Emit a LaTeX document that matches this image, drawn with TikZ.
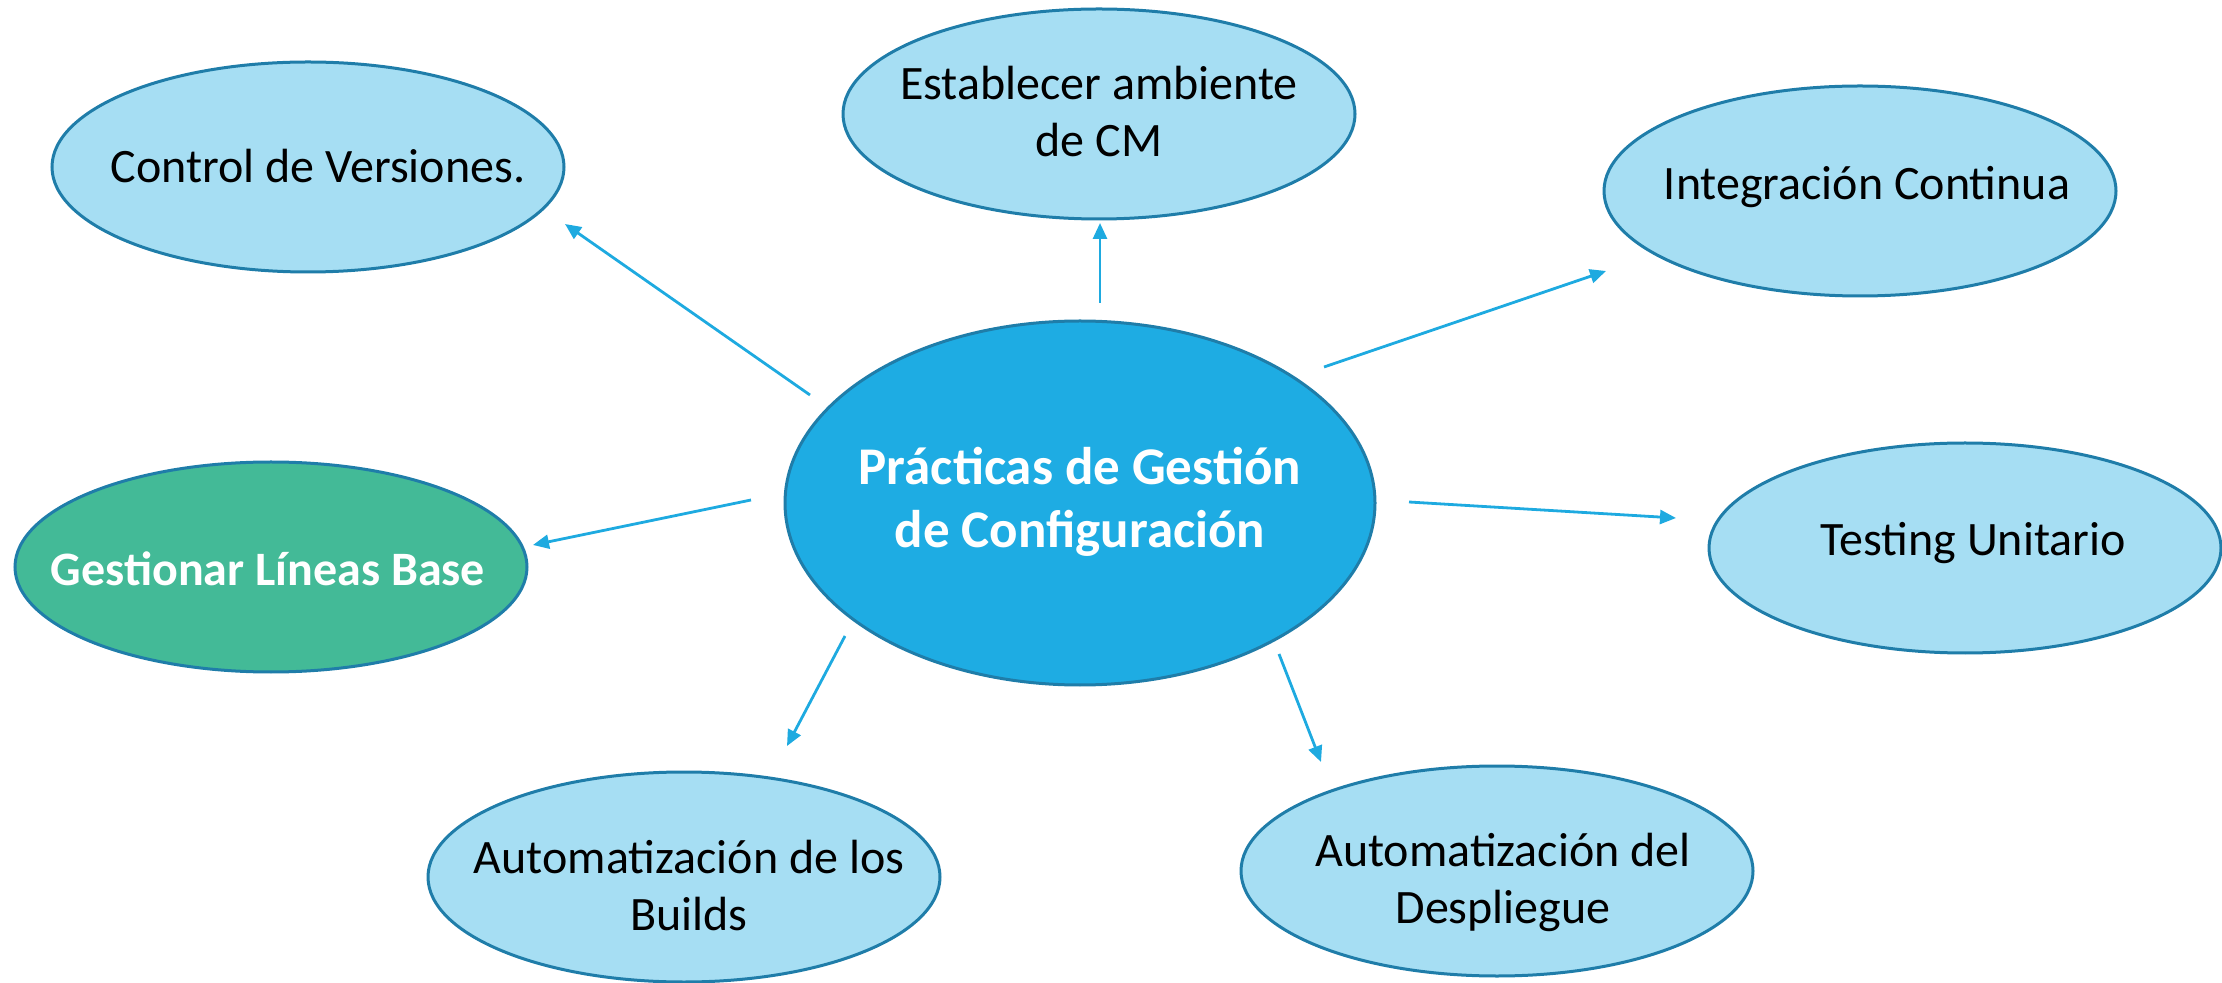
\documentclass[tikz,border=0pt]{standalone}
\usepackage{fontspec}
\setmainfont{Carlito}
\usetikzlibrary{shapes.geometric,arrows.meta}
\definecolor{lightfill}{HTML}{A6DEF3}
\definecolor{rimblue}{HTML}{1F7DA9}
\definecolor{corefill}{HTML}{1EACE3}
\definecolor{greenfill}{HTML}{43BA97}
\definecolor{arrowblue}{HTML}{1EAAE0}
\tikzset{
  bub/.style={ellipse, draw=rimblue, line width=1.5pt, fill=lightfill, inner sep=0pt,
    minimum width=512pt*0.5, minimum height=210pt*0.5},
  core/.style={bub, fill=corefill, minimum width=590pt*0.5, minimum height=364pt*0.5},
  greenbub/.style={bub, fill=greenfill},
  txt/.style={anchor=base, inner sep=0pt, font=\fontsize{24}{29}\selectfont, text=black},
  wtxt/.style={txt, font=\fontsize{24}{29}\selectfont\bfseries, text=white},
  bigwtxt/.style={txt, font=\fontsize{26.5}{32}\selectfont\bfseries, text=white},
  link/.style={draw=arrowblue, line width=1.4pt, -{Triangle[length=8pt,width=7pt]}}
}
\begin{document}
\begin{tikzpicture}[x=0.5pt,y=-0.5pt]
\useasboundingbox (0,0) rectangle (2222,983);
% ellipses
\node[bub] (cv) at (308,167) {};
\node[bub] (ea) at (1099,114) {};
\node[bub] (ic) at (1860,191) {};
\node[core] (pg) at (1080,503) {};
\node[greenbub] (gl) at (271,567) {};
\node[bub] (tu) at (1965,548) {};
\node[bub] (ab) at (684,877) {};
\node[bub] (ad) at (1497,871) {};
% texts
\node[txt] (cvt) at (318,183) {Control de Versiones.};
\node[txt] (eat1) at (1099,100) {Establecer ambiente};
\node[txt] (eat2) at (1099,157) {de CM};
\node[txt] (ict) at (1867,200) {Integración Continua};
\node[bigwtxt] (pgt1) at (1080,485) {Prácticas de Gestión};
\node[bigwtxt] (pgt2) at (1080,548) {de Configuración};
\node[wtxt] (glt) at (268,586) {Gestionar Líneas Base};
\node[txt] (tut) at (1973,556) {Testing Unitario};
\node[txt] (abt1) at (689,873) {Automatización de los};
\node[txt] (abt2) at (689,930) {Builds};
\node[txt] (adt1) at (1503,866) {Automatización del};
\node[txt] (adt2) at (1503,923) {Despliegue};
% connector end points
\coordinate (s1) at (810,395);  \coordinate (e1) at (565,224);
\coordinate (s2) at (1100,303); \coordinate (e2) at (1100,223);
\coordinate (s3) at (1324,367); \coordinate (e3) at (1606,271);
\coordinate (s4) at (751,500);  \coordinate (e4) at (533,545);
\coordinate (s5) at (1409,502); \coordinate (e5) at (1676,518);
\coordinate (s6) at (845,636);  \coordinate (e6) at (787,746);
\coordinate (s7) at (1279,654); \coordinate (e7) at (1321,762);
\draw[link] (s1) -- (e1);
\draw[link] (s2) -- (e2);
\draw[link] (s3) -- (e3);
\draw[link] (s4) -- (e4);
\draw[link] (s5) -- (e5);
\draw[link] (s6) -- (e6);
\draw[link] (s7) -- (e7);
\end{tikzpicture}
\end{document}
